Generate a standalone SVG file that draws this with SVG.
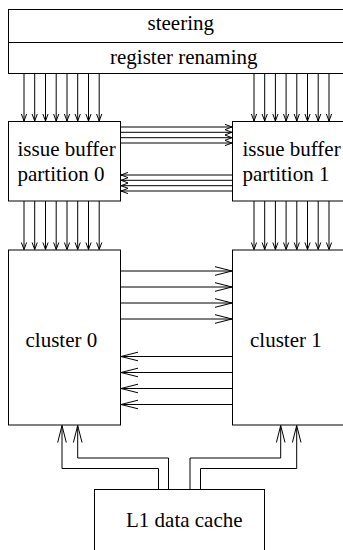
<svg xmlns="http://www.w3.org/2000/svg" width="343" height="550" viewBox="0 0 343 550">
<style>
.box{fill:#fff;stroke:#000;stroke-width:1}
.lbl{font-family:'Liberation Serif','Times New Roman','DejaVu Serif',serif;font-size:21px;fill:#000}
.c{fill:none;stroke:#000;stroke-width:1}
.s{marker-end:url(#sm)}
.l{marker-end:url(#lg)}
</style>
<defs>
<marker id="sm" markerUnits="userSpaceOnUse" orient="auto" refX="0" refY="0" viewBox="-10 -5 11 10" markerWidth="11" markerHeight="10" overflow="visible">
<path d="M-7,-2.6 L0,0 L-7,2.6" fill="none" stroke="#000" stroke-width="1"/>
</marker>
<marker id="lg" markerUnits="userSpaceOnUse" orient="auto" refX="0" refY="0" viewBox="-20 -6 21 12" markerWidth="21" markerHeight="12" overflow="visible">
<path d="M-17,-4.3 L0,0 L-17,4.3" fill="none" stroke="#000" stroke-width="1"/>
</marker>
</defs>
<rect width="343" height="550" fill="#fff"/>
<g id="steering">
<rect class="box" x="8.5" y="9.5" width="345" height="33"/>
<text class="lbl" x="147.5" y="30">steering</text>
</g>
<g id="register-renaming">
<rect class="box" x="8.5" y="42.5" width="345" height="31"/>
<text class="lbl" x="110" y="64">register renaming</text>
</g>
<g id="issue-buffer-0">
<rect class="box" x="8.5" y="121.5" width="112" height="79.5"/>
<text class="lbl" x="17.5" y="156">issue buffer</text>
<text class="lbl" x="17.5" y="181">partition 0</text>
</g>
<g id="issue-buffer-1">
<rect class="box" x="232.5" y="121.5" width="130" height="79.5"/>
<text class="lbl" x="242.5" y="156">issue buffer</text>
<text class="lbl" x="242.5" y="181">partition 1</text>
</g>
<g id="cluster-0">
<rect class="box" x="8.5" y="250" width="112" height="175"/>
<text class="lbl" x="25.5" y="347">cluster 0</text>
</g>
<g id="cluster-1">
<rect class="box" x="232.5" y="250" width="130" height="175"/>
<text class="lbl" x="250" y="347">cluster 1</text>
</g>
<g id="l1-data-cache">
<rect class="box" x="94.5" y="489.5" width="170" height="80"/>
<text class="lbl" x="126" y="527">L1 data cache</text>
</g>
<g id="connectors" class="c">
<path class="s" d="M24,73.5V121"/><path class="s" d="M34.7,73.5V121"/><path class="s" d="M45.5,73.5V121"/><path class="s" d="M56.2,73.5V121"/>
<path class="s" d="M67,73.5V121"/><path class="s" d="M77.7,73.5V121"/><path class="s" d="M88.5,73.5V121"/><path class="s" d="M99.2,73.5V121"/>
<path class="s" d="M254,73.5V121"/><path class="s" d="M264.7,73.5V121"/><path class="s" d="M275.4,73.5V121"/><path class="s" d="M286.1,73.5V121"/>
<path class="s" d="M296.8,73.5V121"/><path class="s" d="M307.5,73.5V121"/><path class="s" d="M318.2,73.5V121"/><path class="s" d="M329,73.5V121"/>
<path class="s" d="M24,201V249.5"/><path class="s" d="M34.7,201V249.5"/><path class="s" d="M45.5,201V249.5"/><path class="s" d="M56.2,201V249.5"/>
<path class="s" d="M67,201V249.5"/><path class="s" d="M77.7,201V249.5"/><path class="s" d="M88.5,201V249.5"/><path class="s" d="M99.2,201V249.5"/>
<path class="s" d="M254,201V249.5"/><path class="s" d="M264.7,201V249.5"/><path class="s" d="M275.4,201V249.5"/><path class="s" d="M286.1,201V249.5"/>
<path class="s" d="M296.8,201V249.5"/><path class="s" d="M307.5,201V249.5"/><path class="s" d="M318.2,201V249.5"/><path class="s" d="M329,201V249.5"/>
<path class="s" d="M120.5,127H232"/><path class="s" d="M120.5,132.3H232"/><path class="s" d="M120.5,137.7H232"/><path class="s" d="M120.5,143H232"/>
<path class="s" d="M232.5,175H121"/><path class="s" d="M232.5,180.3H121"/><path class="s" d="M232.5,185.7H121"/><path class="s" d="M232.5,191H121"/>
<path class="l" d="M120.5,271H232"/><path class="l" d="M120.5,287H232"/><path class="l" d="M120.5,303H232"/><path class="l" d="M120.5,319H232"/>
<path class="l" d="M232.5,356.5H121"/><path class="l" d="M232.5,372.5H121"/><path class="l" d="M232.5,388.5H121"/><path class="l" d="M232.5,404.5H121"/>
<path class="l" d="M158.5,489.5V468.5H62V425.5"/>
<path class="l" d="M168.5,489.5V458H77.7V425.5"/>
<path class="l" d="M190,489.5V458H280.7V425.5"/>
<path class="l" d="M200.5,489.5V468.5H296.7V425.5"/>
</g>
</svg>
